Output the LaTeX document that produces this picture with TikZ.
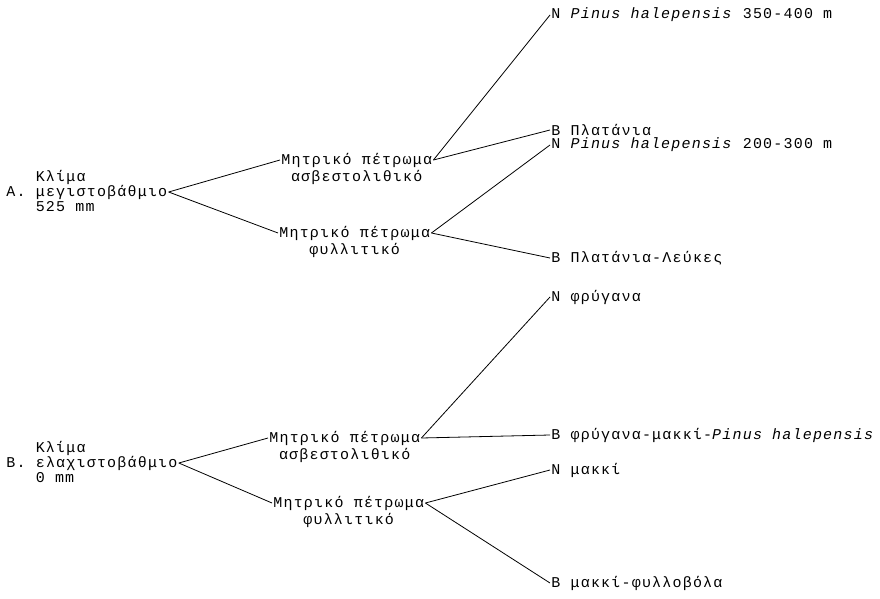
\documentclass[tikz,border=0pt]{standalone}
\usepackage{fontspec}
\setmainfont[LetterSpace=8]{Liberation Mono}
\begin{document}
\begin{tikzpicture}[x=1pt,y=-1pt,
    every node/.style={anchor=west,inner sep=1pt,font=\fontsize{15}{16}\selectfont},
    line width=0.8pt]
  \useasboundingbox (0,0) rectangle (880,599);
  % climate A
  \draw
    (5,192) node (ra){A. μεγιστοβάθμιο}
    (5,177) node (ra1){\phantom{A. }Κλίμα}
    (5,207) node (ra2){\phantom{A. }525 mm}
    (280,160) node (c1){Μητρικό πέτρωμα}
    (278,233) node (c2){Μητρικό πέτρωμα}
    (550,15) node (n1){N \textit{Pinus halepensis} 350-400 m}
    (550,130) node (b1){B Πλατάνια}
    (550,145) node (n2){N \textit{Pinus halepensis} 200-300 m}
    (550,258) node (b2){B Πλατάνια-Λεύκες};
  \node[anchor=north] (c1b) at (c1.south) {ασβεστολιθικό};
  \node[anchor=north] (c2b) at (c2.south) {φυλλιτικό};
  % climate B
  \draw
    (5,463) node (rb){B. ελαχιστοβάθμιο}
    (5,448) node (rb1){\phantom{B. }Κλίμα}
    (5,478) node (rb2){\phantom{B. }0 mm}
    (268,438) node (c3){Μητρικό πέτρωμα}
    (272,503) node (c4){Μητρικό πέτρωμα}
    (550,297) node (n3){N φρύγανα}
    (550,435) node (b3){B φρύγανα-μακκί-\textit{Pinus halepensis}}
    (550,470) node (n4){N μακκί}
    (550,583) node (b4){B μακκί-φυλλοβόλα};
  \node[anchor=north] (c3b) at (c3.south) {ασβεστολιθικό};
  \node[anchor=north] (c4b) at (c4.south) {φυλλιτικό};
  \begin{scope}[-]
    \draw (ra.east) to (c1.west);
    \draw (ra.east) to (c2.west);
    \draw (c1.east) to (n1.west);
    \draw (c1.east) to (b1.west);
    \draw (c2.east) to (n2.west);
    \draw (c2.east) to (b2.west);
    \draw (rb.east) to (c3.west);
    \draw (rb.east) to (c4.west);
    \draw (c3.east) to (n3.west);
    \draw (c3.east) to (b3.west);
    \draw (c4.east) to (n4.west);
    \draw (c4.east) to (b4.west);
  \end{scope}
\end{tikzpicture}
\end{document}
